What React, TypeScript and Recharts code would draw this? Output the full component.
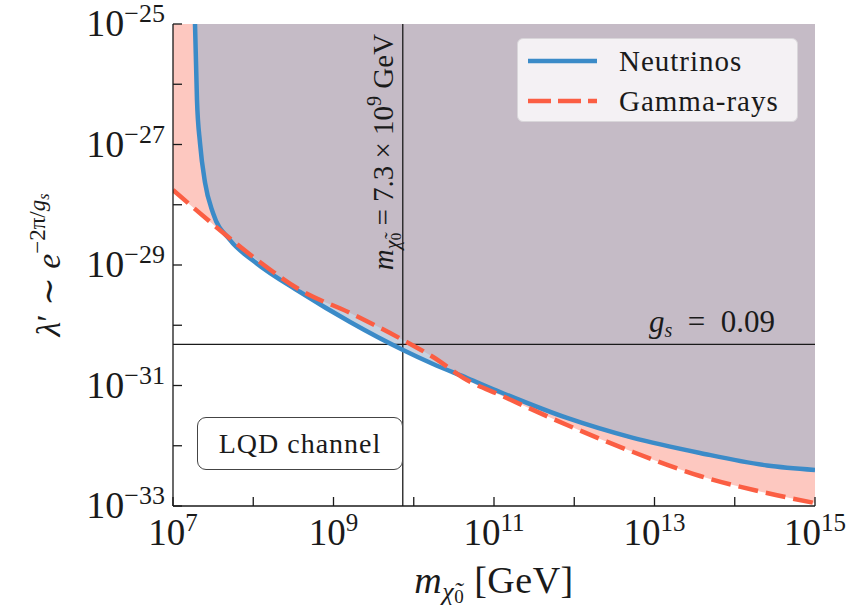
import React from 'react';
import { ComposedChart, Area, Line, XAxis, YAxis, ReferenceLine, Label } from 'recharts';

// m_chi0 [GeV] and lambda' values
const neutrinoMass = [1.88e7, 1.99e7, 2.17e7, 2.51e7, 3.15e7, 5.13e7, 1.05e8, 3.83e8, 1.61e9, 7.35e9, 1.74e10, 4.61e10, 1.19e11, 8.13e11, 5.4e12, 3.69e13, 2.52e14, 1e15];
const neutrinoLambda = [1e-25, 5.48e-27, 1.06e-27, 2.3e-28, 7.3e-29, 2.6e-29, 1.12e-29, 3.56e-30, 1.13e-30, 3.88e-31, 2.27e-31, 1.33e-31, 7.79e-32, 2.89e-32, 1.35e-32, 7.59e-33, 4.7e-33, 3.96e-33];
const gammaMass = [1e7, 3.34e7, 1.21e8, 3.83e8, 1.61e9, 7.35e9, 1.74e10, 4.61e10, 1.19e11, 8.13e11, 5.4e12, 3.69e13, 2.52e14, 1e15];
const gammaLambda = [1.76e-28, 4.44e-29, 1.12e-29, 3.85e-30, 1.6e-30, 5.69e-31, 2.97e-31, 1.23e-31, 6.95e-32, 2.21e-32, 7.87e-33, 3.15e-33, 1.64e-33, 1.12e-33];

const xTicks = [1e7, 1e8, 1e9, 1e10, 1e11, 1e12, 1e13, 1e14, 1e15];
const yTicks = [1e-33, 1e-32, 1e-31, 1e-30, 1e-29, 1e-28, 1e-27, 1e-26, 1e-25];
const xDomain = [1e7, 1e15];
const yDomain = [1e-33, 1e-25];
const massLine = 7.3e9;
const gsLine = 4.8e-31; // exp(-2*pi/0.09)

const neutrinoData = neutrinoMass.map((x, i) => ({ x, y: neutrinoLambda[i] }));
const gammaData = gammaMass.map((x, i) => ({ x, y: gammaLambda[i] }));

const FONT = '"Liberation Serif", "DejaVu Serif", serif';
const INK = '#1a1a1a';
const BLUE = '#3b8bc8';
const RED = '#fb5e43';
const TICK = 9;
const NB = '\u00A0';

const expText = (v: number) => {
  const e = Math.round(Math.log10(v));
  return { e, s: e < 0 ? '\u2212' + Math.abs(e) : String(e) };
};

const BottomTick = (p: any) => {
  const { x, y, payload } = p;
  const { e, s } = expText(payload.value);
  return (
    <g>
      <line x1={x} y1={y} x2={x} y2={y - TICK} stroke={INK} strokeWidth={1.3} />
      {Math.abs(e) % 2 === 1 && (
        <text x={x} y={y + 39} textAnchor="middle" fontFamily={FONT} fill={INK}>
          <tspan fontSize={37}>10</tspan>
          <tspan fontSize={25} dy={-14}>{s}</tspan>
        </text>
      )}
    </g>
  );
};

const TopTick = (p: any) => {
  const { x, y } = p;
  return <line x1={x} y1={y} x2={x} y2={y + TICK} stroke={INK} strokeWidth={1.3} />;
};

const LeftTick = (p: any) => {
  const { x, y, payload } = p;
  const { e, s } = expText(payload.value);
  return (
    <g>
      <line x1={x} y1={y} x2={x + TICK} y2={y} stroke={INK} strokeWidth={1.3} />
      {Math.abs(e) % 2 === 1 && (
        <text x={x - 8} y={y + 12} textAnchor="end" fontFamily={FONT} fill={INK}>
          <tspan fontSize={38}>10</tspan>
          <tspan fontSize={26} dy={-14}>{s}</tspan>
        </text>
      )}
    </g>
  );
};

const RightTick = (p: any) => {
  const { x, y } = p;
  return <line x1={x} y1={y} x2={x - TICK} y2={y} stroke={INK} strokeWidth={1.3} />;
};

const XTitle = (p: any) => {
  const vb = p.viewBox || { x: 173, y: 506, width: 642, height: 100 };
  const cx = vb.x + vb.width / 2;
  return (
    <text x={cx} y={vb.y + 87} textAnchor="middle" fontFamily={FONT} fill={INK} fontSize={38} letterSpacing={0.5}>
      <tspan fontStyle="italic">m</tspan>
      <tspan fontSize={26} dy={7} fontStyle="italic">{'\u03C7\u0303'}</tspan>
      <tspan fontSize={19} dy={3}>0</tspan>
      <tspan dy={-10}>{' [GeV]'}</tspan>
    </text>
  );
};

const YTitle = (p: any) => {
  const vb = p.viewBox || { x: 0, y: 24, width: 173, height: 482 };
  const cy = vb.y + vb.height / 2;
  const bx = 60;
  return (
    <text x={bx} y={cy} transform={`rotate(-90, ${bx}, ${cy})`} textAnchor="middle" fontFamily={FONT} fill={INK} fontSize={34}>
      <tspan fontStyle="italic">{'\u03BB'}</tspan>
      <tspan>{'\u2032 \u223C '}</tspan>
      <tspan fontStyle="italic">e</tspan>
      <tspan fontSize={23} dy={-15}>{'\u22122\u03C0/'}</tspan>
      <tspan fontSize={23} fontStyle="italic">g</tspan>
      <tspan fontSize={16} dy={4} fontStyle="italic">s</tspan>
    </text>
  );
};

const MassLabel = (p: any) => {
  const vb = p.viewBox || { x: 403, y: 24, width: 0, height: 482 };
  const bx = vb.x - 10;
  const cy = vb.y + 128;
  return (
    <text x={bx} y={cy} transform={`rotate(-90, ${bx}, ${cy})`} textAnchor="middle" fontFamily={FONT} fill={INK} fontSize={29}>
      <tspan fontStyle="italic">m</tspan>
      <tspan fontSize={20} dy={6} fontStyle="italic">{'\u03C7\u0303'}</tspan>
      <tspan fontSize={15} dy={2}>0</tspan>
      <tspan dy={-8}>{' = 7.3 \u00D7 10'}</tspan>
      <tspan fontSize={20} dy={-12}>9</tspan>
      <tspan dy={12}>{' GeV'}</tspan>
    </text>
  );
};

const GsLabel = (p: any) => {
  const vb = p.viewBox || { x: 173, y: 344, width: 642, height: 0 };
  const x = vb.x + vb.width - 40;
  return (
    <text x={x} y={vb.y - 12} textAnchor="end" fontFamily={FONT} fill={INK} fontSize={31}>
      <tspan fontStyle="italic">g</tspan>
      <tspan fontSize={20} dy={5} fontStyle="italic">s</tspan>
      <tspan dy={-5}>{NB + NB + '=' + NB + NB + '0.09'}</tspan>
    </text>
  );
};

const topOf = yDomain[1];

export default function App() {
  return (
    <div style={{ position: 'absolute', left: 0, top: 0, width: 865, height: 606, background: '#fff' }}>
      <ComposedChart width={865} height={606} margin={{ top: 24, right: 50, bottom: 0, left: 0 }}>
        <XAxis
          dataKey="x"
          type="number"
          scale="log"
          domain={xDomain}
          allowDataOverflow
          ticks={xTicks}
          interval={0}
          height={100}
          tickSize={0}
          tickMargin={0}
          tickLine={false}
          tick={<BottomTick />}
          axisLine={{ stroke: INK, strokeWidth: 1.3 }}
        >
          <Label content={<XTitle />} />
        </XAxis>
        <XAxis
          xAxisId="top"
          orientation="top"
          dataKey="x"
          type="number"
          scale="log"
          domain={xDomain}
          allowDataOverflow
          ticks={xTicks}
          interval={0}
          height={0}
          tickSize={0}
          tickMargin={0}
          tickLine={false}
          tick={<TopTick />}
          axisLine={{ stroke: INK, strokeWidth: 1.3 }}
        />
        <YAxis
          type="number"
          scale="log"
          domain={yDomain}
          allowDataOverflow
          ticks={yTicks}
          interval={0}
          width={173}
          tickSize={0}
          tickMargin={0}
          tickLine={false}
          tick={<LeftTick />}
          axisLine={{ stroke: INK, strokeWidth: 1.3 }}
        >
          <Label content={<YTitle />} />
        </YAxis>
        <YAxis
          yAxisId="right"
          orientation="right"
          type="number"
          scale="log"
          domain={yDomain}
          allowDataOverflow
          ticks={yTicks}
          interval={0}
          width={0}
          tickSize={0}
          tickMargin={0}
          tickLine={false}
          tick={<RightTick />}
          axisLine={{ stroke: INK, strokeWidth: 1.3 }}
        />
        <Area
          data={gammaData}
          dataKey={(d: any) => [d.y, topOf]}
          type="monotone"
          stroke="none"
          fill="#fdc8c0"
          fillOpacity={1}
          isAnimationActive={false}
          legendType="none"
        />
        <Area
          data={neutrinoData}
          dataKey={(d: any) => [d.y, topOf]}
          type="monotone"
          stroke="none"
          fill="#a0b2c9"
          fillOpacity={0.6}
          isAnimationActive={false}
          legendType="none"
        />
        <ReferenceLine x={massLine} stroke={INK} strokeWidth={1.3} label={<MassLabel />} />
        <ReferenceLine y={gsLine} stroke={INK} strokeWidth={1.3} label={<GsLabel />} />
        <Line
          data={neutrinoData}
          dataKey="y"
          type="monotone"
          stroke={BLUE}
          strokeWidth={4.5}
          dot={false}
          isAnimationActive={false}
        />
        <Line
          data={gammaData}
          dataKey="y"
          type="monotone"
          stroke={RED}
          strokeWidth={4.5}
          strokeDasharray="20 8"
          dot={false}
          isAnimationActive={false}
        />
      </ComposedChart>

      <div
        style={{
          position: 'absolute', left: 517, top: 38, width: 281, height: 84, boxSizing: 'border-box',
          background: 'rgba(255,255,255,0.8)', border: '1px solid #d9d6da', borderRadius: 6,
          fontFamily: FONT, fontSize: 29, color: INK, letterSpacing: 1,
        }}
      >
        <svg width={80} height={84} style={{ position: 'absolute', left: 0, top: 0 }}>
          <line x1={10} y1={22} x2={79} y2={22} stroke={BLUE} strokeWidth={4.5} />
          <line x1={10} y1={62} x2={79} y2={62} stroke={RED} strokeWidth={4.5} strokeDasharray="23 7" />
        </svg>
        <div style={{ position: 'absolute', left: 101, top: 3, lineHeight: '38px' }}>Neutrinos</div>
        <div style={{ position: 'absolute', left: 101, top: 43, lineHeight: '38px' }}>Gamma-rays</div>
      </div>

      <div
        style={{
          position: 'absolute', left: 197, top: 417, width: 206, height: 53, boxSizing: 'border-box',
          background: '#fff', border: '1.5px solid #444', borderRadius: 9,
          fontFamily: FONT, fontSize: 28, color: INK, letterSpacing: 1,
          display: 'flex', alignItems: 'center', justifyContent: 'center',
        }}
      >
        LQD channel
      </div>
    </div>
  );
}
